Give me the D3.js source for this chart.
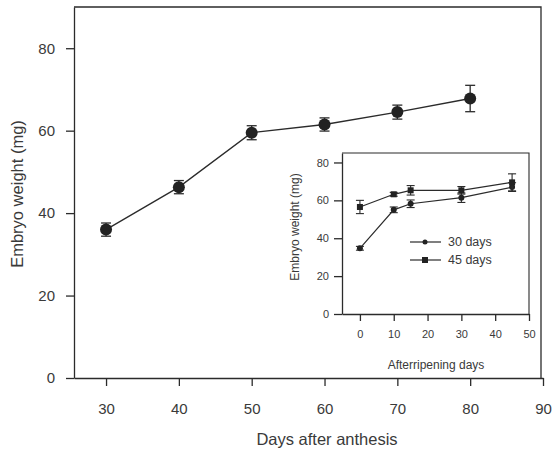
<!DOCTYPE html>
<html>
<head>
<meta charset="utf-8">
<script src="https://cdn.jsdelivr.net/npm/d3@7"></script>
<style>
  body { margin: 0; background: #fff; }
  svg { font-family: Arial, "Liberation Sans", sans-serif; }
  .axis path, .axis line { stroke: #2b2b2b; stroke-width: 1.3; }
  .axis text { fill: #3a3a3a; }
</style>
</head>
<body>
<div id="chart"></div>
<script>
// main chart: days after anthesis vs embryo weight
const daysAnthesis = [30, 40, 50, 60, 70, 80];
const weightMain = [36, 46.3, 59.5, 61.5, 64.5, 67.8];
const errMain = [1.6, 1.6, 1.7, 1.6, 1.7, 3.2];
const mainXTicks = [30, 40, 50, 60, 70, 80, 90];
const mainYTicks = [0, 20, 40, 60, 80];

// inset: afterripening days
const afterDays = [0, 10, 15, 30, 45];
const weight30 = [34.7, 55, 58.2, 61.4, 67];
const err30 = [1, 1.5, 2, 2.5, 2.3];
const weight45 = [56.5, 63.2, 65.3, 65.3, 69.5];
const err45 = [3.5, 1, 2.5, 2, 4.5];
const insetXTicks = [0, 10, 20, 30, 40, 50];
const insetYTicks = [0, 20, 40, 60, 80];
const seriesNames = ["30 days", "45 days"];

const width = 554, height = 457;
const ink = "#2b2b2b";

const svg = d3.select("#chart").append("svg")
  .attr("width", width)
  .attr("height", height);

// ---- main chart ----
const x = d3.scaleLinear().domain([25.6, 90]).range([74, 543]);
const y = d3.scaleLinear().domain([0, 90]).range([378, 7]);

// box top/right
svg.append("path")
  .attr("d", `M${x.range()[0]},${y(90)}H${x(90) - 2}V${y(0)}`)
  .attr("fill", "none")
  .attr("stroke", ink)
  .attr("stroke-width", 1.3);

svg.append("g")
  .attr("class", "axis")
  .attr("transform", `translate(0,${y(0)})`)
  .call(d3.axisBottom(x).tickValues(mainXTicks).tickSize(8).tickSizeOuter(0).tickPadding(17))
  .call(g => g.selectAll("text").attr("font-size", 15));

svg.append("g")
  .attr("class", "axis")
  .attr("transform", `translate(${x.range()[0]},0)`)
  .call(d3.axisLeft(y).tickValues(mainYTicks).tickSize(8).tickSizeOuter(0).tickPadding(11))
  .call(g => g.selectAll("text").attr("font-size", 15));

svg.append("text")
  .attr("x", 327)
  .attr("y", 445)
  .attr("text-anchor", "middle")
  .attr("font-size", 16.5)
  .attr("fill", "#3a3a3a")
  .text("Days after anthesis");

svg.append("text")
  .attr("transform", "translate(23,194) rotate(-90)")
  .attr("text-anchor", "middle")
  .attr("font-size", 16.5)
  .attr("fill", "#3a3a3a")
  .text("Embryo weight (mg)");

const mainData = daysAnthesis.map((d, i) => ({ x: d, y: weightMain[i], e: errMain[i] }));

svg.append("path")
  .datum(mainData)
  .attr("fill", "none")
  .attr("stroke", ink)
  .attr("stroke-width", 1.3)
  .attr("d", d3.line().x(d => x(d.x)).y(d => y(d.y)));

const mainErr = svg.selectAll(".err-main")
  .data(mainData)
  .join("g")
  .attr("class", "err-main")
  .attr("stroke", ink)
  .attr("stroke-width", 1.3);

mainErr.append("line")
  .attr("x1", d => x(d.x)).attr("x2", d => x(d.x))
  .attr("y1", d => y(d.y + d.e)).attr("y2", d => y(d.y - d.e));
mainErr.append("line")
  .attr("x1", d => x(d.x) - 5).attr("x2", d => x(d.x) + 5)
  .attr("y1", d => y(d.y + d.e)).attr("y2", d => y(d.y + d.e));
mainErr.append("line")
  .attr("x1", d => x(d.x) - 5).attr("x2", d => x(d.x) + 5)
  .attr("y1", d => y(d.y - d.e)).attr("y2", d => y(d.y - d.e));

svg.selectAll(".dot-main")
  .data(mainData)
  .join("circle")
  .attr("class", "dot-main")
  .attr("cx", d => x(d.x))
  .attr("cy", d => y(d.y))
  .attr("r", 6)
  .attr("fill", "#222");

// ---- inset ----
const ix = d3.scaleLinear().domain([-5.3, 50]).range([342, 529]);
const iy = d3.scaleLinear().domain([0, 85]).range([314, 153]);

svg.append("path")
  .attr("d", `M${ix.range()[0]},${iy(85)}H${ix(50)}V${iy(0)}`)
  .attr("fill", "none")
  .attr("stroke", ink)
  .attr("stroke-width", 1.1);

svg.append("g")
  .attr("class", "axis")
  .attr("transform", `translate(0,${iy(0)})`)
  .call(d3.axisBottom(ix).tickValues(insetXTicks).tickSize(7).tickSizeOuter(0).tickPadding(9))
  .call(g => g.selectAll("text").attr("font-size", 11))
  .call(g => g.selectAll("path, line").attr("stroke-width", 1.1));

svg.append("g")
  .attr("class", "axis")
  .attr("transform", `translate(${ix.range()[0]},0)`)
  .call(d3.axisLeft(iy).tickValues(insetYTicks).tickSize(8).tickSizeOuter(0).tickPadding(5))
  .call(g => g.selectAll("text").attr("font-size", 11))
  .call(g => g.selectAll("path, line").attr("stroke-width", 1.1));

svg.append("text")
  .attr("x", 436)
  .attr("y", 369)
  .attr("text-anchor", "middle")
  .attr("font-size", 12)
  .attr("fill", "#3a3a3a")
  .text("Afterripening days");

svg.append("text")
  .attr("transform", "translate(299,227) rotate(-90)")
  .attr("text-anchor", "middle")
  .attr("font-size", 12)
  .attr("fill", "#3a3a3a")
  .text("Embryo weight (mg)");

const insetSeries = [
  afterDays.map((d, i) => ({ x: d, y: weight30[i], e: err30[i] })),
  afterDays.map((d, i) => ({ x: d, y: weight45[i], e: err45[i] }))
];

insetSeries.forEach((data, s) => {
  svg.append("path")
    .datum(data)
    .attr("fill", "none")
    .attr("stroke", ink)
    .attr("stroke-width", 1.2)
    .attr("d", d3.line().x(d => ix(d.x)).y(d => iy(d.y)));

  const g = svg.selectAll(".err-inset-" + s)
    .data(data)
    .join("g")
    .attr("class", "err-inset-" + s)
    .attr("stroke", ink)
    .attr("stroke-width", 1.1);
  g.append("line")
    .attr("x1", d => ix(d.x)).attr("x2", d => ix(d.x))
    .attr("y1", d => iy(d.y + d.e)).attr("y2", d => iy(d.y - d.e));
  g.append("line")
    .attr("x1", d => ix(d.x) - 4).attr("x2", d => ix(d.x) + 4)
    .attr("y1", d => iy(d.y + d.e)).attr("y2", d => iy(d.y + d.e));
  g.append("line")
    .attr("x1", d => ix(d.x) - 4).attr("x2", d => ix(d.x) + 4)
    .attr("y1", d => iy(d.y - d.e)).attr("y2", d => iy(d.y - d.e));

  if (s === 0) {
    svg.selectAll(".dot-inset-0")
      .data(data)
      .join("circle")
      .attr("class", "dot-inset-0")
      .attr("cx", d => ix(d.x)).attr("cy", d => iy(d.y))
      .attr("r", 3).attr("fill", "#222");
  } else {
    svg.selectAll(".dot-inset-1")
      .data(data)
      .join("rect")
      .attr("class", "dot-inset-1")
      .attr("x", d => ix(d.x) - 3).attr("y", d => iy(d.y) - 3)
      .attr("width", 6).attr("height", 6).attr("fill", "#222");
  }
});

// legend
const legend = svg.selectAll(".legend")
  .data(seriesNames)
  .join("g")
  .attr("class", "legend")
  .attr("transform", (d, i) => `translate(410,${242 + i * 18})`);

legend.append("line")
  .attr("x1", 0).attr("x2", 31)
  .attr("stroke", ink).attr("stroke-width", 1.2);
legend.each(function(d, i) {
  const g = d3.select(this);
  if (i === 0) {
    g.append("circle").attr("cx", 15).attr("r", 2.5).attr("fill", "#222");
  } else {
    g.append("rect").attr("x", 12).attr("y", -3).attr("width", 6).attr("height", 6).attr("fill", "#222");
  }
});
legend.append("text")
  .attr("x", 38)
  .attr("dy", "0.35em")
  .attr("font-size", 12.5)
  .attr("fill", "#3a3a3a")
  .text(d => d);
</script>
</body>
</html>
